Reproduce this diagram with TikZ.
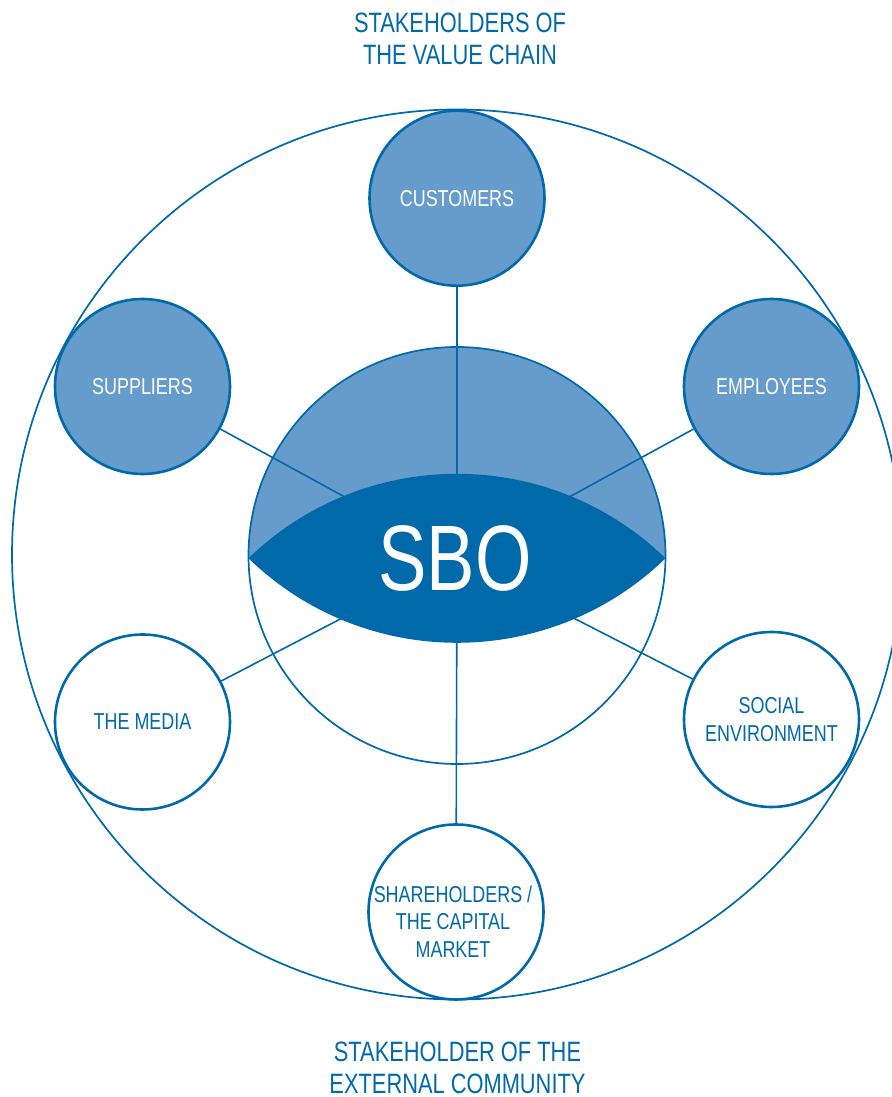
\documentclass[tikz,border=0pt]{standalone}
\usepackage{fontspec}
\setmainfont{Liberation Sans}[FakeStretch=0.78]
\definecolor{dblue}{HTML}{0069AA}
\definecolor{lblue}{HTML}{669CCC}
\begin{document}
\begin{tikzpicture}[x=1pt,y=1pt,
  stake/.style={circle, draw=dblue, line width=2.6pt, minimum size=175pt, inner sep=0pt, align=center, font=\fontsize{23}{27.5}\selectfont},
  vstake/.style={stake, fill=lblue, text=white},
  estake/.style={stake, fill=white, text=dblue},
  link/.style={draw=dblue, line width=1.6pt},
  ring/.style={draw=dblue, line width=1.7pt},
  heading/.style={text=dblue, align=center, inner sep=0pt, font=\fontsize{28}{32}\selectfont},
  plain/.style={text=dblue, align=center, inner sep=0pt, font=\fontsize{23}{27.5}\selectfont}
]
\useasboundingbox (0,0) rectangle (891,1097);

% stakeholder circles
\node[vstake] (cus) at (457,898.8) {CUSTOMERS};
\node[vstake] (sup) at (142.5,710.5) {SUPPLIERS};
\node[vstake] (emp) at (771.5,710.5) {EMPLOYEES};
\node[estake] (med) at (142.5,375) {THE MEDIA};
\node[estake] (soc) at (771.5,377.5) {SOCIAL\\ENVIRONMENT};
\node[estake] (sha) at (456,185) {};
\node[plain] (shatext) at (453,175.5) {SHAREHOLDERS /\\THE CAPITAL\\MARKET};

% centre
\coordinate (c) at (457,538.7);

% light upper half of inner circle
\fill[lblue] (248.5,538.7) arc[start angle=180.77, end angle=-0.77, radius=208.5] -- cycle;

% connectors
\draw[link] (cus) -- (c);
\draw[link] (sup) -- (c);
\draw[link] (emp) -- (c);
\draw[link] (med) -- (c);
\draw[link] (soc) -- (c);
\draw[link] (sha) -- (c);

% lens
\fill[dblue] (248.5,538.7) arc[start angle=134.12, end angle=45.88, radius=299.5]
  arc[start angle=314.12, end angle=225.88, radius=299.5] -- cycle;

% inner circle
\draw[ring] (457,541.5) circle[radius=208.5];

% SBO
\node[text=white, inner sep=0pt, font=\fontsize{93}{93}\selectfont] (sbo) at (455,539) {SBO};

% outer circle
\draw[ring] (457,542.5) circle[radius=445];

% headings
\node[heading] (top) at (460,1058) {STAKEHOLDERS OF\\THE VALUE CHAIN};
\node[heading] (bot) at (457.5,29.5) {STAKEHOLDER OF THE\\EXTERNAL COMMUNITY};
\end{tikzpicture}
\end{document}
